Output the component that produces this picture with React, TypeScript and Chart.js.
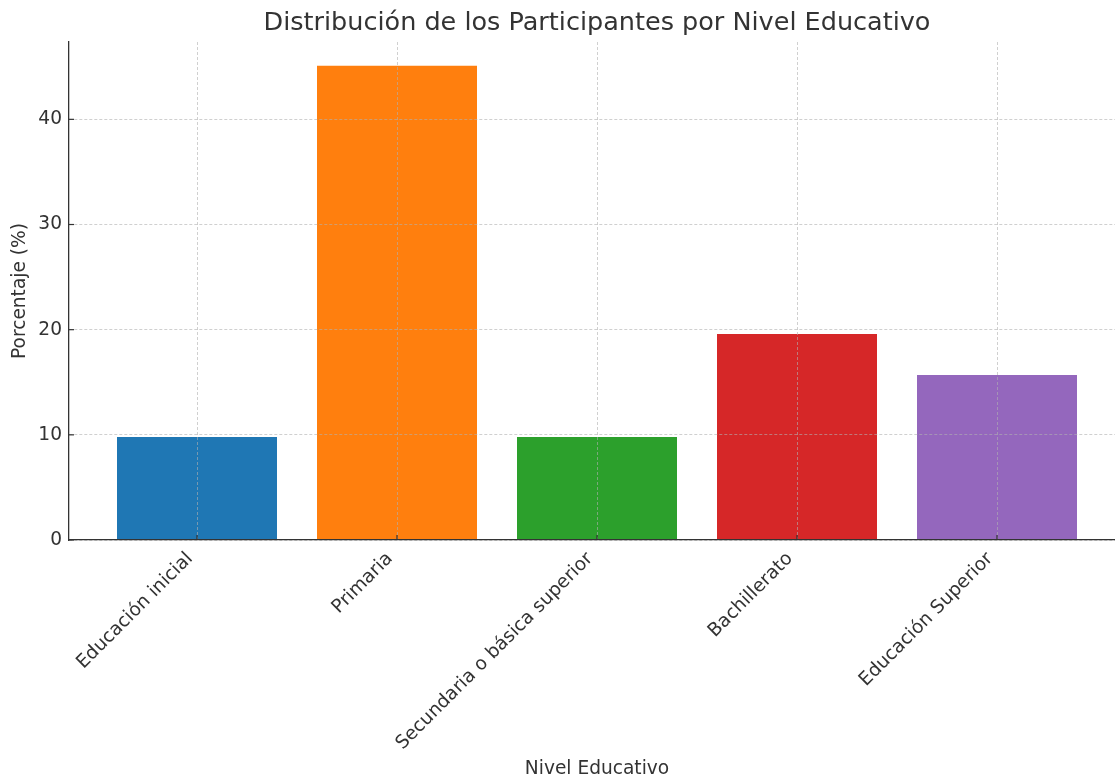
import React, { useEffect, useRef } from 'react';
import { Chart, registerables } from 'chart.js';

Chart.register(...registerables);

const CATEGORIES = [
  'Educación inicial',
  'Primaria',
  'Secundaria o básica superior',
  'Bachillerato',
  'Educación Superior',
];
const PERCENTAGES = [9.8, 45.1, 9.8, 19.6, 15.7];
const Y_TICKS = [0, 10, 20, 30, 40];
const BAR_COLORS = ['#1f77b4', '#ff7f0e', '#2ca02c', '#d62728', '#9467bd'];

const TITLE = 'Distribución de los Participantes por Nivel Educativo';
const X_TITLE = 'Nivel Educativo';
const Y_TITLE = 'Porcentaje (%)';

const W = 1130;
const H = 784;
const FONT = 'DejaVu Sans';
const TEXT = '#333333';
const GRID = 'rgba(176,176,176,0.6)';

const inwardTicks = {
  id: 'inwardTicks',
  afterDraw(chart: any) {
    const { ctx, scales, chartArea } = chart;
    const x = scales.x;
    const y = scales.y;
    ctx.save();
    ctx.strokeStyle = TEXT;
    ctx.lineWidth = 1.2;
    x.ticks.forEach((t: any) => {
      const px = x.getPixelForValue(t.value);
      ctx.beginPath();
      ctx.moveTo(px, chartArea.bottom);
      ctx.lineTo(px, chartArea.bottom - 5);
      ctx.stroke();
    });
    y.ticks.forEach((t: any) => {
      const py = y.getPixelForValue(t.value);
      ctx.beginPath();
      ctx.moveTo(chartArea.left, py);
      ctx.lineTo(chartArea.left + 5, py);
      ctx.stroke();
    });
    ctx.restore();
  },
};

export default function App() {
  const ref = useRef<HTMLCanvasElement | null>(null);

  useEffect(() => {
    if (!ref.current) return;
    const yMax = Math.max(...PERCENTAGES) * 1.05;
    const n = CATEGORIES.length;
    const chart = new Chart(ref.current, {
      type: 'bar',
      data: {
        datasets: [
          {
            data: PERCENTAGES.map((v, i) => ({ x: i, y: v })),
            backgroundColor: BAR_COLORS,
            borderWidth: 0,
            categoryPercentage: 1,
            barPercentage: 0.8,
          },
        ],
      },
      options: {
        responsive: false,
        animation: false,
        layout: { padding: { left: 0, right: 5, top: 0, bottom: 0 } },
        plugins: {
          legend: { display: false },
          tooltip: { enabled: false },
          title: {
            display: true,
            fullSize: false,
            text: TITLE,
            color: TEXT,
            font: { family: FONT, size: 25.5, weight: 'normal' },
            padding: { top: 8, bottom: 3.4 },
          },
        },
        scales: {
          x: {
            type: 'linear',
            min: -0.64,
            max: n - 1 + 0.64,
            offset: false,
            afterBuildTicks: (s: any) => {
              s.ticks = CATEGORIES.map((_, i) => ({ value: i }));
            },
            afterFit: (s: any) => {
              s.height = 244;
              s.paddingLeft = 0;
              s.paddingRight = 0;
            },
            ticks: {
              autoSkip: false,
              minRotation: 45,
              maxRotation: 45,
              padding: 8,
              labelOffset: -7,
              color: TEXT,
              font: { family: FONT, size: 18.6 },
              callback: (v: any) => CATEGORIES[v] ?? '',
            },
            grid: { offset: false, color: GRID, lineWidth: 1, drawTicks: false, z: 1 },
            border: { display: true, color: TEXT, width: 1.3, dash: [3, 2], z: 2 },
            title: {
              display: true,
              text: X_TITLE,
              color: TEXT,
              font: { family: FONT, size: 18.6 },
              padding: { top: 4, bottom: 4 },
            },
          },
          y: {
            min: 0,
            max: yMax,
            afterBuildTicks: (s: any) => {
              s.ticks = Y_TICKS.map((v) => ({ value: v }));
            },
            afterFit: (s: any) => {
              s.width = 69;
            },
            ticks: {
              padding: 7,
              color: TEXT,
              font: { family: FONT, size: 18.6 },
            },
            grid: { color: GRID, lineWidth: 1, drawTicks: false, z: 1 },
            border: { display: true, color: TEXT, width: 1.3, dash: [3, 2], z: 2 },
            title: {
              display: true,
              text: Y_TITLE,
              color: TEXT,
              font: { family: FONT, size: 18.6 },
              padding: { top: 9, bottom: 0 },
            },
          },
        },
      } as any,
      plugins: [inwardTicks],
    });
    return () => chart.destroy();
  }, []);

  return (
    <div
      style={{
        position: 'fixed',
        left: 0,
        top: 0,
        width: 1115,
        height: 777,
        overflow: 'hidden',
        background: '#ffffff',
      }}
    >
      <canvas ref={ref} width={W} height={H} style={{ width: W, height: H, display: 'block' }} />
    </div>
  );
}
